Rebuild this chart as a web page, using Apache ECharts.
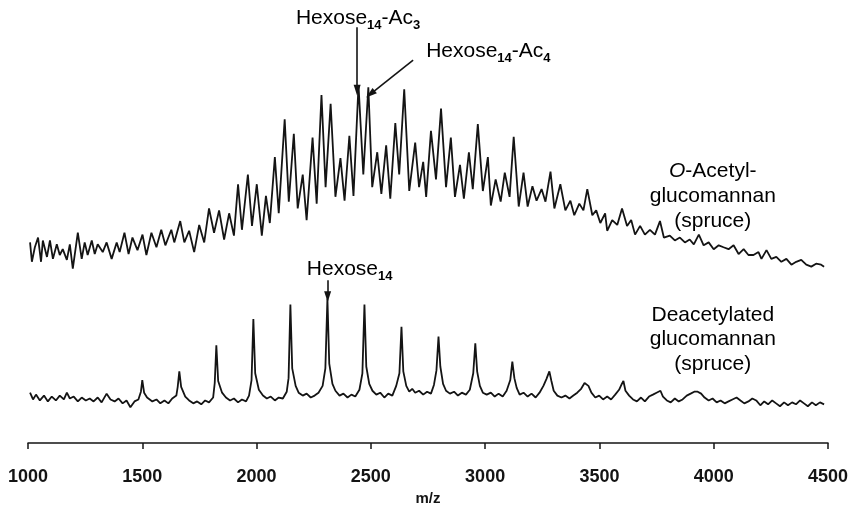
<!DOCTYPE html>
<html>
<head>
<meta charset="utf-8">
<script src="https://cdn.jsdelivr.net/npm/echarts/dist/echarts.min.js"></script>
<style>
html, body { margin: 0; background: #fff; }
#chart { width: 851px; height: 511px; }
</style>
</head>
<body>
<div id="chart"></div>
<script>
// m/z range of the x axis
var mzMin = 1000, mzMax = 4500, mzStep = 500;

// O-acetyl-glucomannan trace (upper), intensity in arbitrary units with offset
var upperMz = [1009,1017,1030,1044,1057,1065,1083,1096,1109,1126,1139,1152,1170,1183,1196,1218,1235,1248,1261,1279,
  1292,1305,1327,1344,1366,1388,1401,1422,1440,1457,1479,1501,1518,1540,1562,1583,1601,1627,1640,1666,
  1684,1705,1727,1749,1771,1792,1814,1836,1858,1880,1901,1919,1936,1962,1980,2001,2023,2041,2058,2080,
  2097,2123,2141,2163,2180,2202,2219,2245,2263,2284,2302,2324,2345,2367,2385,2406,2424,2446,2467,2489,
  2506,2528,2546,2567,2585,2607,2624,2646,2668,2694,2711,2729,2742,2763,2785,2807,2829,2850,2868,2890,
  2907,2929,2946,2968,2990,3012,3025,3046,3068,3086,3107,3125,3147,3168,3186,3207,3225,3247,3264,3286,
  3303,3329,3351,3373,3390,3412,3430,3447,3469,3486,3504,3525,3534,3556,3578,3599,3621,3639,3656,3678,
  3699,3721,3743,3765,3782,3808,3830,3852,3874,3895,3913,3935,3956,3978,4000,4022,4043,4065,4087,4109,
  4131,4152,4174,4196,4209,4231,4252,4274,4296,4318,4340,4361,4383,4405,4427,4448,4470,4483];
var upperInt = [207,187,202,212,187,209,192,209,190,205,194,200,189,205,180,217,190,207,194,209,
  195,205,197,207,190,207,197,217,195,212,199,215,194,217,202,220,204,220,207,229,
  207,219,197,225,207,242,217,240,210,237,214,267,220,277,224,267,214,255,227,295,
  237,334,249,319,242,277,230,315,247,359,264,350,254,294,250,317,255,369,277,367,
  264,300,257,307,252,330,277,365,260,310,264,290,254,322,272,345,264,315,254,287,
  252,300,262,329,260,295,245,272,249,279,254,316,244,279,244,265,250,262,249,280,
  242,267,240,250,235,247,240,262,235,240,227,237,219,230,225,242,224,230,215,224,
  215,220,215,229,212,214,209,212,207,210,205,215,204,207,200,204,202,200,204,195,
  200,194,194,197,190,199,190,192,187,190,184,187,189,184,182,185,184,182];

// deacetylated glucomannan trace (lower)
var lowerMz = [1009,1022,1035,1052,1070,1087,1104,1122,1139,1157,1170,1183,1200,1218,1235,1253,1270,1287,1305,1322,
  1344,1361,1379,1396,1414,1431,1448,1466,1483,1494,1500,1508,1521,1544,1562,1579,1597,1614,1631,1649,
  1655,1662,1670,1688,1705,1723,1740,1758,1775,1792,1810,1817,1824,1832,1849,1866,1884,1901,1919,1936,
  1954,1967,1978,1986,1994,2010,2028,2045,2062,2080,2097,2115,2132,2140,2148,2156,2171,2184,2202,2219,
  2237,2254,2271,2289,2301,2310,2318,2332,2345,2363,2380,2398,2415,2432,2450,2463,2472,2480,2493,2507,
  2524,2541,2559,2576,2594,2611,2625,2634,2642,2655,2668,2681,2694,2711,2729,2746,2763,2776,2787,2796,
  2804,2816,2829,2846,2864,2881,2898,2916,2933,2948,2957,2965,2977,2990,3007,3025,3042,3059,3077,3094,
  3110,3119,3128,3138,3151,3168,3186,3203,3221,3238,3255,3268,3281,3290,3300,3316,3334,3351,3369,3386,
  3403,3420,3435,3443,3452,3465,3482,3499,3516,3534,3551,3569,3586,3598,3605,3614,3630,3647,3664,3682,
  3699,3717,3734,3750,3767,3778,3795,3812,3830,3847,3864,3882,3899,3915,3930,3945,3960,3978,3995,4013,
  4030,4048,4065,4082,4100,4117,4134,4152,4169,4186,4204,4221,4238,4256,4273,4290,4308,4325,4343,4360,
  4378,4395,4412,4430,4447,4465,4483];
var lowerInt = [52,45,50,44,49,43,48,44,49,45,52,46,48,43,47,44,46,43,47,42,
  51,45,43,46,41,44,37,43,45,53,65,52,47,43,45,41,44,41,46,49,
  58,74,58,48,44,41,43,40,44,42,47,62,101,64,52,47,44,46,42,45,
  43,49,65,128,72,55,49,46,48,44,47,46,53,67,143,77,59,52,49,51,
  47,49,52,59,77,149,82,61,54,49,51,47,50,48,55,72,143,79,61,54,
  50,52,47,51,49,59,72,120,74,59,53,56,52,54,50,53,51,60,75,110,
  79,61,54,51,53,49,52,50,55,72,103,74,59,52,50,52,48,51,48,54,
  65,84,67,57,50,52,48,51,47,52,59,66,74,64,54,49,47,49,46,49,
  52,56,62,64,59,52,47,49,45,48,45,50,55,61,64,54,49,45,43,47,
  43,48,50,52,54,48,44,42,46,43,45,49,51,53,53,51,47,44,46,42,
  44,41,43,45,47,44,41,43,46,44,39,43,40,44,41,38,42,39,42,40,
  44,41,38,42,39,42,40];

// annotation anchors in data units [m/z, intensity]
var arrowFrom = [[2440, 429], [2685, 395], [2311, 168]];
var arrowTo   = [[2440, 364], [2498, 360], [2311, 151]];
var noteAt    = [[2172, 437], [2742, 403], [2220, 178]];
var noteText  = ['{a|Hexose}{s|14}{a|-Ac}{s|3}', '{a|Hexose}{s|14}{a|-Ac}{s|4}', '{a|Hexose}{s|14}'];
var sideAt    = [[3996, 279], [3996, 254], [3996, 228], [3996, 131], [3996, 106], [3996, 80]];
var sideText  = ['{i|O}{a|-Acetyl-}', '{a|glucomannan}', '{a|(spruce)}',
                 '{a|Deacetylated}', '{a|glucomannan}', '{a|(spruce)}'];

var font = '"Liberation Sans", Arial, Helvetica, sans-serif';
var ink = '#141414';

function zip(xs, ys) {
    var out = [];
    for (var i = 0; i < xs.length; i++) out.push([xs[i], ys[i]]);
    return out;
}

var arrowLines = [];
for (var i = 0; i < arrowFrom.length; i++) {
    arrowLines.push([{ coord: arrowFrom[i] }, { coord: arrowTo[i] }]);
}

var chart = echarts.init(document.getElementById('chart'), null, { renderer: 'canvas' });

var option = {
    animation: false,
    backgroundColor: '#fff',
    grid: { left: 28, right: 20, top: 0, bottom: 43 },
    xAxis: {
        type: 'value',
        min: mzMin,
        max: mzMax,
        interval: mzStep,
        name: 'm/z',
        nameLocation: 'middle',
        nameGap: 32,
        nameTextStyle: { fontFamily: font, fontWeight: 'bold', fontSize: 15, color: ink },
        axisLine: { lineStyle: { color: ink, width: 1.5 } },
        axisTick: { show: true, length: 6, lineStyle: { color: ink, width: 1.5 } },
        axisLabel: {
            fontFamily: font, fontWeight: 'bold', fontSize: 18, color: ink, margin: 25,
            formatter: function (v) { return String(v); }
        },
        splitLine: { show: false }
    },
    yAxis: { type: 'value', min: 0, max: 457, show: false },
    series: [
        {
            type: 'line',
            data: zip(upperMz, upperInt),
            showSymbol: false,
            lineStyle: { color: ink, width: 1.8 },
            markLine: {
                silent: true,
                symbol: ['none', 'triangle'],
                symbolSize: [7, 11],
                label: { show: false },
                lineStyle: { color: ink, width: 1.6, type: 'solid' },
                data: arrowLines
            }
        },
        {
            type: 'line',
            data: zip(lowerMz, lowerInt),
            showSymbol: false,
            lineStyle: { color: ink, width: 1.8 }
        }
    ]
};
chart.setOption(option);

var rich = {
    a: { fontFamily: font, fontSize: 21, color: ink, lineHeight: 23, verticalAlign: 'top' },
    i: { fontFamily: font, fontSize: 21, color: ink, lineHeight: 23, verticalAlign: 'top', fontStyle: 'italic' },
    s: { fontFamily: font, fontSize: 13, fontWeight: 'bold', color: ink, lineHeight: 14, verticalAlign: 'top', padding: [11, 0, 0, 0] }
};

var graphics = [];
noteAt.forEach(function (p, k) {
    var px = chart.convertToPixel({ xAxisIndex: 0, yAxisIndex: 0 }, p);
    graphics.push({
        type: 'text', x: px[0], y: px[1],
        style: { text: noteText[k], rich: rich, align: 'left', verticalAlign: 'middle' }
    });
});
sideAt.forEach(function (p, k) {
    var px = chart.convertToPixel({ xAxisIndex: 0, yAxisIndex: 0 }, p);
    graphics.push({
        type: 'text', x: px[0], y: px[1],
        style: { text: sideText[k], rich: rich, align: 'center', verticalAlign: 'middle' }
    });
});
chart.setOption({ graphic: graphics });
</script>
</body>
</html>
